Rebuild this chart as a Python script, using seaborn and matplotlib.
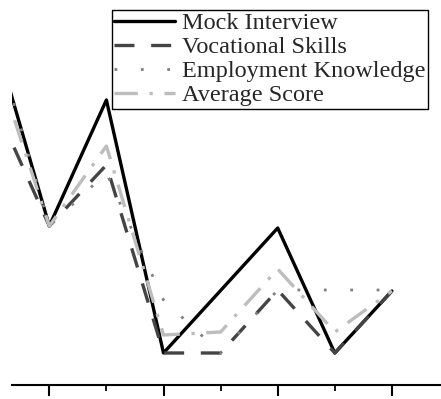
import matplotlib
matplotlib.use("Agg")
import matplotlib.pyplot as plt
from matplotlib.ticker import FixedLocator, NullFormatter
import seaborn as sns
import numpy as np

# ---- data (arbitrary y units) ----
x_pos = [0, 1, 2, 3, 4, 5, 6, 7]
mock_interview = [35.6, 15.9, 28.5, 3.2, 9.45, 15.7, 3.2, 9.4]
vocational_skills = [28.6, 15.9, 22.0, 3.2, 3.2, 9.5, 3.2, 9.4]
employment_knowledge = [35.6, 15.9, 21.2, 8.5, 3.2, 9.5, 9.5, 9.5]
average_score = [33.3, 15.9, 23.9, 5.0, 5.3, 11.6, 5.3, 9.4]
labels = ["Mock Interview", "Vocational Skills", "Employment Knowledge", "Average Score"]

sns.set_theme(style="white")
plt.rcParams["font.family"] = ["Liberation Serif", "DejaVu Serif"]

W, H = 441, 399
fig = plt.figure(figsize=(W / 100, H / 100), dpi=100)
ax = fig.add_axes([12 / W, (H - 385) / H, 1 - 12 / W, 385 / H])

series = [mock_interview, vocational_skills, employment_knowledge, average_score]
styles = [
    dict(color="black", lw=2.4, linestyle="-"),
    dict(color="#444444", lw=2.4, linestyle=(0, (6, 5))),
    dict(color="#808080", lw=2.0, linestyle=(0, (1, 8.5))),
    dict(color="#bdbdbd", lw=2.4, linestyle=(0, (7, 3.5, 1, 3.5))),
]
for vals, lab, st in zip(series, labels, styles):
    sns.lineplot(x=x_pos, y=vals, ax=ax, label=lab, **st)

x0 = 1 - (49.3 - 12) / 57.1
x1 = 1 + (441 - 49.3) / 57.1
ax.set_xlim(x0, x1)
ax.set_ylim(0, 38.5)

for s in ["top", "right", "left"]:
    ax.spines[s].set_visible(False)
ax.spines["bottom"].set_color("black")
ax.spines["bottom"].set_linewidth(1.5)
ax.xaxis.set_major_locator(FixedLocator([1, 3, 5, 7]))
ax.xaxis.set_minor_locator(FixedLocator([2, 4, 6]))
ax.xaxis.set_major_formatter(NullFormatter())
ax.set_yticks([])
ax.tick_params(axis="x", which="major", direction="out", length=8, width=1.5, color="black", bottom=True)
ax.tick_params(axis="x", which="minor", direction="out", length=4, width=1.3, color="black", bottom=True)
ax.set_xlabel("")
ax.set_ylabel("")
ax.grid(False)

leg = ax.legend(loc="upper left", bbox_to_anchor=(112 / W, 1 - 10 / H),
                bbox_transform=fig.transFigure, borderaxespad=0,
                frameon=True, fancybox=False, edgecolor="black",
                prop={"family": "Liberation Serif", "size": 17.5},
                handlelength=2.5, handletextpad=0.3, borderpad=0.1,
                labelspacing=0.08)
leg.get_frame().set_linewidth(1.0)
leg.get_frame().set_alpha(None)
leg.get_frame().set_facecolor("white")

fig.savefig("out.png", dpi=100)
